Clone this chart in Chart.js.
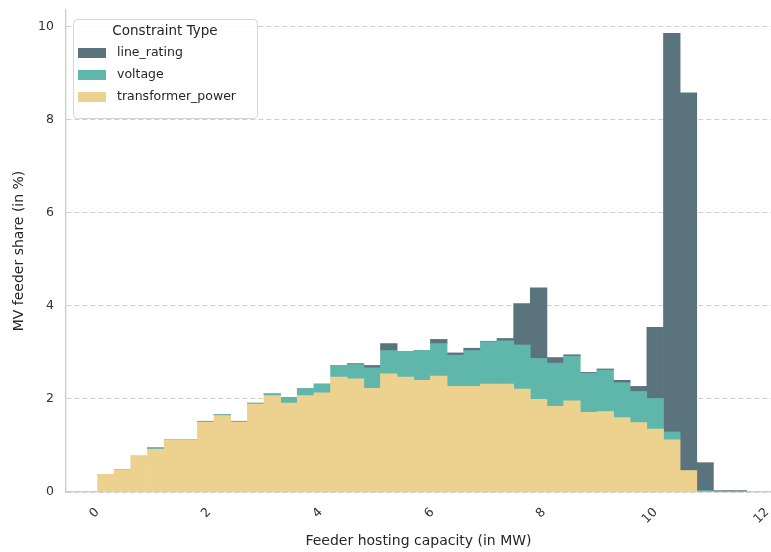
<!DOCTYPE html>
<html>
<head>
<meta charset="utf-8">
<script src="https://cdn.jsdelivr.net/npm/chart.js@4.4.0/dist/chart.umd.min.js"></script>
<style>
  html, body { margin: 0; padding: 0; background: #fff; }
</style>
</head>
<body>
<canvas id="histchart" width="771" height="552"></canvas>
<script>
// bin centres of the histogram (MW)
var binCenters = [0.224, 0.522, 0.820, 1.119, 1.417, 1.715, 2.013, 2.311, 2.610, 2.908,
  3.206, 3.504, 3.802, 4.101, 4.399, 4.697, 4.995, 5.293, 5.592, 5.890,
  6.188, 6.486, 6.784, 7.083, 7.381, 7.679, 7.977, 8.275, 8.574, 8.872,
  9.170, 9.468, 9.766, 10.065, 10.363, 10.661, 10.959, 11.257, 11.556];

// share of MV feeders (in %) per bin and constraint type
var transformerPower = [0.38, 0.48, 0.77, 0.92, 1.12, 1.12, 1.50, 1.64, 1.50, 1.89,
  2.07, 1.91, 2.07, 2.13, 2.47, 2.43, 2.23, 2.54, 2.47, 2.40,
  2.49, 2.27, 2.27, 2.32, 2.32, 2.21, 1.99, 1.84, 1.96, 1.71,
  1.73, 1.60, 1.49, 1.35, 1.12, 0.46, 0, 0, 0];
var voltage = [0, 0, 0, 0.03, 0, 0, 0.02, 0.02, 0.02, 0.02,
  0.04, 0.12, 0.15, 0.19, 0.25, 0.31, 0.44, 0.50, 0.55, 0.64,
  0.70, 0.67, 0.77, 0.91, 0.93, 0.95, 0.88, 0.93, 0.96, 0.84,
  0.89, 0.75, 0.67, 0.66, 0.17, 0, 0.03, 0, 0];
var lineRating = [0, 0, 0, 0, 0, 0, 0, 0, 0, 0,
  0, 0, 0, 0, 0, 0.02, 0.05, 0.15, 0, 0,
  0.09, 0.05, 0.05, 0.01, 0.05, 0.89, 1.52, 0.12, 0.03, 0.02,
  0.025, 0.05, 0.11, 1.53, 8.57, 8.12, 0.60, 0.03, 0.03];

var xTicks = [0, 2, 4, 6, 8, 10, 12];
var yTicks = [0, 2, 4, 6, 8, 10];

function toPoints(values) {
  return values.map(function (v, i) { return { x: binCenters[i], y: v }; });
}

Chart.defaults.font.family = "'DejaVu Sans', sans-serif";
Chart.defaults.color = '#333333';

// matplotlib style legend box with a title, top left inside the axes
var legendBox = {
  id: 'legendBox',
  afterDraw: function (chart) {
    var ctx = chart.ctx;
    var ds = chart.data.datasets.slice().reverse();
    ctx.save();
    ctx.beginPath();
    ctx.roundRect(73.5, 19.5, 184, 99, 4);
    ctx.fillStyle = 'rgba(255,255,255,0.85)';
    ctx.fill();
    ctx.strokeStyle = '#d6d6d6';
    ctx.lineWidth = 1;
    ctx.stroke();
    ctx.fillStyle = '#262626';
    ctx.font = "13.5px 'DejaVu Sans'";
    ctx.textAlign = 'center';
    ctx.textBaseline = 'middle';
    ctx.fillText('Constraint Type', 165, 31);
    ctx.font = "12.5px 'DejaVu Sans'";
    ctx.textAlign = 'left';
    ds.forEach(function (d, i) {
      var cy = 53 + i * 22;
      ctx.fillStyle = d.backgroundColor;
      ctx.fillRect(78, cy - 5, 28, 10);
      ctx.fillStyle = '#262626';
      ctx.fillText(d.label, 117, cy);
    });
    ctx.restore();
  }
};

var histChart = new Chart(document.getElementById('histchart').getContext('2d'), {
  type: 'bar',
  data: {
    datasets: [
      { label: 'transformer_power', data: toPoints(transformerPower), backgroundColor: '#edd28f' },
      { label: 'voltage', data: toPoints(voltage), backgroundColor: '#5fb6ab' },
      { label: 'line_rating', data: toPoints(lineRating), backgroundColor: '#5b737d' }
    ]
  },
  options: {
    responsive: false,
    animation: false,
    devicePixelRatio: 1,
    barPercentage: 1.0,
    categoryPercentage: 1.0,
    borderWidth: 0,
    layout: { padding: { top: 10, left: 0, right: 0, bottom: 0 } },
    plugins: {
      legend: { display: false },
      tooltip: { enabled: false }
    },
    scales: {
      x: {
        type: 'linear',
        stacked: true,
        offset: false,
        min: -0.49,
        max: 12.14,
        afterFit: function (scale) {
          scale.height = 60;
          scale.paddingLeft = 0;
          scale.paddingRight = 0;
        },
        afterBuildTicks: function (scale) {
          scale.ticks = xTicks.map(function (v) { return { value: v }; });
        },
        ticks: {
          includeBounds: false,
          minRotation: 45,
          maxRotation: 45,
          autoSkip: false,
          labelOffset: 4,
          padding: 13,
          font: { size: 12.5 },
          color: '#333333'
        },
        grid: { display: true, drawOnChartArea: false, drawTicks: false },
        border: { display: true, color: '#cccccc', width: 1.3 },
        title: {
          display: true,
          text: 'Feeder hosting capacity (in MW)',
          font: { size: 14 },
          color: '#262626',
          padding: { top: 0, bottom: 2 }
        }
      },
      y: {
        stacked: true,
        min: 0,
        max: 10.36,
        afterFit: function (scale) {
          scale.width = 66;
          scale.paddingTop = 0;
          scale.paddingBottom = 0;
        },
        afterBuildTicks: function (scale) {
          scale.ticks = yTicks.map(function (v) { return { value: v }; });
        },
        ticks: {
          includeBounds: false,
          padding: 12,
          font: { size: 12.5 },
          color: '#333333'
        },
        grid: { color: '#cfcfcf', lineWidth: 1, drawTicks: false },
        border: { display: true, color: '#cccccc', width: 1.3, dash: [5, 3] },
        title: {
          display: true,
          text: 'MV feeder share (in %)',
          font: { size: 14 },
          color: '#262626',
          padding: { top: 11, bottom: 0 }
        }
      }
    }
  },
  plugins: [legendBox]
});
</script>
</body>
</html>
